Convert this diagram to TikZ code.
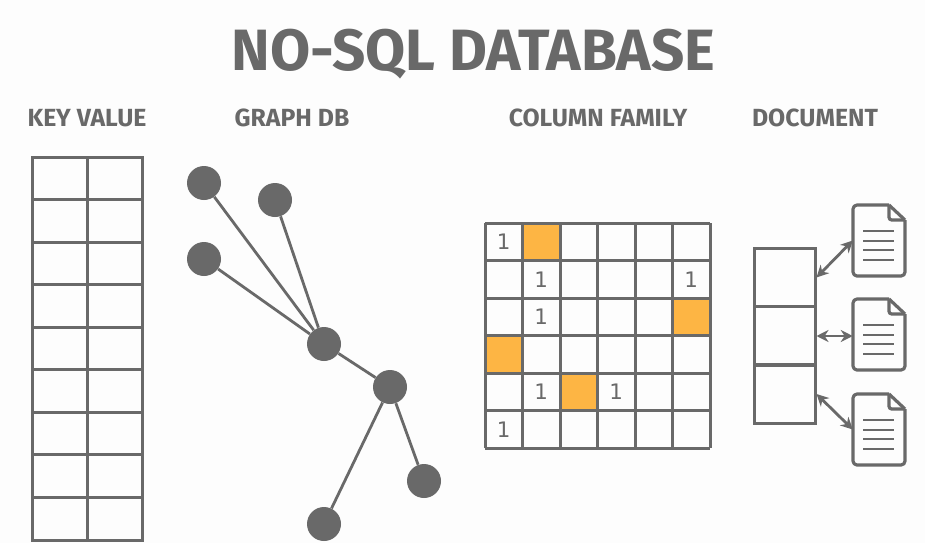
\documentclass[tikz,border=0pt]{standalone}
\usepackage{fontspec}
\setmainfont{Fira Sans}
\newfontfamily\digitfont{DejaVu Sans}
\definecolor{inkgray}{HTML}{696969}
\definecolor{cellorange}{HTML}{FDB544}
\definecolor{paper}{HTML}{FDFDFD}
\usetikzlibrary{arrows.meta}
\tikzset{
    gridline/.style={draw=inkgray, line width=2.25pt},
    heading/.style={text=inkgray, font=\fontsize{18.6}{22}\selectfont\bfseries, anchor=base},
    graphnode/.style={circle, fill=inkgray, inner sep=0pt, minimum size=25.5pt},
    graphedge/.style={draw=inkgray, line width=2.1pt},
    onecell/.style={text=inkgray, font=\digitfont\fontsize{16}{16}\selectfont, inner sep=0pt},
    docslot/.style={draw=inkgray, line width=2.25pt, minimum width=45.75pt, minimum height=44pt, inner sep=0pt},
    docbox/.style={inner sep=0pt, minimum width=39pt, minimum height=53pt},
    docline/.style={draw=inkgray, line width=2.4pt, line join=round},
    linkarrow/.style={draw=inkgray, line width=2.1pt, {Stealth[length=9pt,width=9pt]}-{Stealth[length=9pt,width=9pt]}},
}
\begin{document}
\begin{tikzpicture}[x=0.75pt, y=-0.75pt]
    \fill[paper] (0, 0) rectangle (925, 543);
    \useasboundingbox (0, 0) rectangle (925, 543);

    % Titles
    \node[text=inkgray, font=\fontsize{43.7}{48}\selectfont\bfseries, anchor=base] (title) at (473.5, 70) {NO-SQL DATABASE};
    \node[heading] (keyvalue) at (87, 126) {KEY VALUE};
    \node[heading] (graphdb) at (292, 126) {GRAPH DB};
    \node[heading] (columnfamily) at (598, 126) {COLUMN FAMILY};
    \node[heading] (document) at (815, 126) {DOCUMENT};

    % Key value table
    \begin{scope}[shift={(32, 157)}]
        \draw[gridline] (0, 0) rectangle (110, 383);
        \draw[gridline] (55, 0) -- (55, 383);
        \foreach \r in {1,...,8} {
            \draw[gridline] (0, {\r*42.55}) -- (110, {\r*42.55});
        }
    \end{scope}

    % Graph
    \node[graphnode] (leafa) at (204, 183) {};
    \node[graphnode] (leafb) at (275, 200) {};
    \node[graphnode] (leafc) at (204, 259) {};
    \node[graphnode] (hub) at (324, 344) {};
    \node[graphnode] (joint) at (390, 387) {};
    \node[graphnode] (leafd) at (424, 481) {};
    \node[graphnode] (leafe) at (324, 524) {};
    \draw[graphedge] (leafa) -- (hub);
    \draw[graphedge] (leafb) -- (hub);
    \draw[graphedge] (leafc) -- (hub);
    \draw[graphedge] (hub) -- (joint);
    \draw[graphedge] (joint) -- (leafd);
    \draw[graphedge] (joint) -- (leafe);

    % Column family grid
    \begin{scope}[shift={(485, 223)}]
        \foreach \c/\r in {1/0, 5/2, 0/3, 2/4} {
            \fill[cellorange] ({\c*37.5}, {\r*37.5}) rectangle ++(37.5, 37.5);
        }
        \foreach \i in {0,...,6} {
            \draw[gridline] ({\i*37.5}, 0) -- ({\i*37.5}, 225);
            \draw[gridline] (0, {\i*37.5}) -- (225, {\i*37.5});
        }
        \foreach \c/\r in {0/0, 1/1, 5/1, 1/2, 1/4, 3/4, 0/5} {
            \node[onecell] (one\c\r) at ({(\c+0.5)*37.5}, {(\r+0.5)*37.5}) {1};
        }
    \end{scope}

    % Document store
    \node[docslot] (slota) at (784.5, 277.5) {};
    \node[docslot] (slotb) at (784.5, 336) {};
    \node[docslot] (slotc) at (784.5, 394) {};
    \foreach \n/\y in {a/205, b/299, c/394} {
        \node[docbox] (doc\n) at (879, {\y+35.5}) {};
        \begin{scope}[shift={(853, \y)}]
            \draw[docline, rounded corners=3pt] (36, 0) -- (0, 0) -- (0, 71) -- (52, 71) -- (52, 15);
            \draw[docline] (36, 0) -- (52, 15);
            \draw[docline, rounded corners=2pt] (36, 0) -- (36, 15) -- (52, 15);
            \foreach \l in {26, 36, 45, 55} {
                \draw[inkgray, line width=1.9pt] (10, \l) -- (41, \l);
            }
        \end{scope}
    }
    \draw[linkarrow] (slota.east) -- (doca.west);
    \draw[linkarrow] (slotb.east) -- (slotb.east -| docb.west);
    \draw[linkarrow] (slotc.east) -- (docc.west);
\end{tikzpicture}
\end{document}
